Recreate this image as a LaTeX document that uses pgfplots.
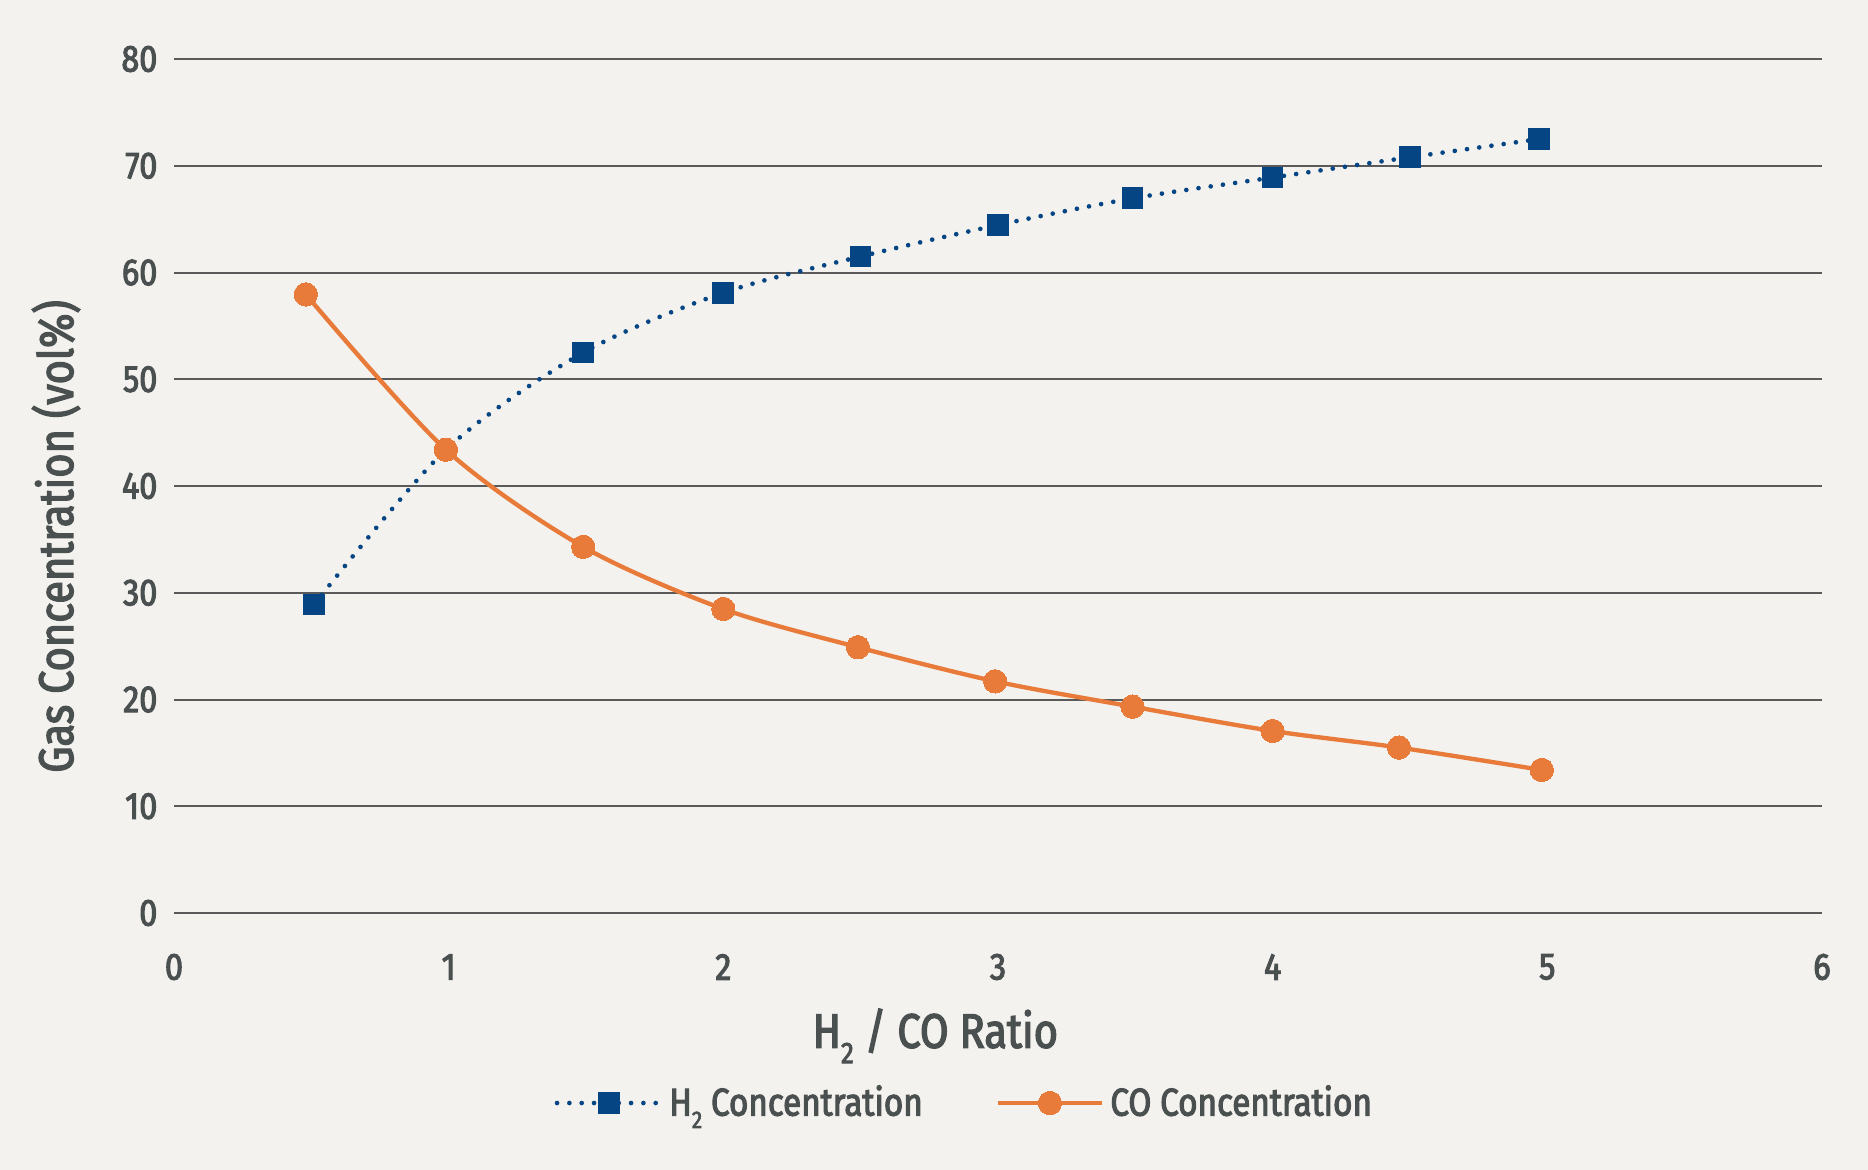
\documentclass[border=0pt]{standalone}
\usepackage{fontspec}
\setmainfont{Fira Sans}[FakeStretch=0.86]
\newfontfamily\medfont{Fira Sans}[FakeStretch=0.86, FakeBold=2.8]
\usepackage{graphicx}
\usepackage{pgfplots}
\pgfplotsset{compat=1.18}
\definecolor{bg}{HTML}{F3F2EE}
\definecolor{h2blue}{HTML}{064584}
\definecolor{coorange}{HTML}{E87A3A}
\definecolor{gridgray}{HTML}{5A5A5A}
\definecolor{txt}{HTML}{4A4F4F}
\newcommand{\sbt}[1]{\raisebox{-0.32em}{\scalebox{0.62}{#1}}}
\begin{document}
\begin{tikzpicture}
\fill[bg] (-52.2pt,-77.1pt) rectangle (508.2pt,273.9pt);
\useasboundingbox (-52.2pt,-77.1pt) rectangle (508.2pt,273.9pt);
\begin{axis}[
  at={(0pt,0pt)}, anchor=south west,
  scale only axis, width=494.4pt, height=256.2pt,
  xmin=0, xmax=6, ymin=0, ymax=80,
  xtick={0,1,2,3,4,5,6}, ytick={0,10,20,30,40,50,60,70,80},
  axis line style={draw=none},
  major tick length=0pt,
  ymajorgrids, grid style={gridgray, line width=0.6pt},
  /pgf/number format/assume math mode=true,
  tick label style={font=\medfont\fontsize{11.3}{13}\selectfont, text=txt},
  xticklabel style={anchor=center, yshift=-16.2pt},
  yticklabel style={anchor=east, inner sep=0pt, xshift=-4.8pt},
  xlabel={H\sbt{2} / CO Ratio},
  ylabel={Gas Concentration (vol\%)},
  every axis x label/.style={at={(rel axis cs:0.462,-0.144)}, anchor=center, font=\medfont\fontsize{14.5}{16}\selectfont, text=txt},
  every axis y label/.style={at={(rel axis cs:0,0.441)}, xshift=-35.4pt, rotate=90, anchor=center, font=\medfont\fontsize{14.5}{16}\selectfont, text=txt},
  legend columns=2,
  legend style={at={(rel axis cs:0.481,-0.2225)}, anchor=center, draw=none, fill=none,
    font=\medfont\fontsize{11.6}{13}\selectfont, text=txt,
    /tikz/every even column/.append style={column sep=20pt}},
  legend image code/.code={\draw[mark indices={2}] plot coordinates {(0pt,0pt) (15.5pt,0pt) (31pt,0pt)};},
  clip=false,
]
\addplot[h2blue, line width=1.4pt, line cap=round, dash pattern=on 0pt off 3.7pt, smooth,
  mark=square*, mark size=3.1pt, mark indices={1,3,4,5,6,7,8,9,10},
  mark options={solid, fill=h2blue, draw=h2blue, line width=0pt}]
  coordinates {(0.51,28.9) (0.99,43.4) (1.49,52.5) (2.0,58.1) (2.5,61.5) (3.0,64.45) (3.49,66.95) (4.0,68.9) (4.5,70.8) (4.97,72.5)};
\addlegendentry{H\sbt{2} Concentration}
\addplot[coorange, line width=1.3pt, smooth,
  mark=*, mark size=3.5pt, mark options={fill=coorange, draw=coorange, line width=0pt}]
  coordinates {(0.48,57.95) (0.99,43.4) (1.49,34.3) (2.0,28.48) (2.49,24.9) (2.99,21.7) (3.49,19.33) (4.0,17.05) (4.46,15.5) (4.98,13.4)};
\addlegendentry{CO Concentration}
\end{axis}
\end{tikzpicture}
\end{document}
